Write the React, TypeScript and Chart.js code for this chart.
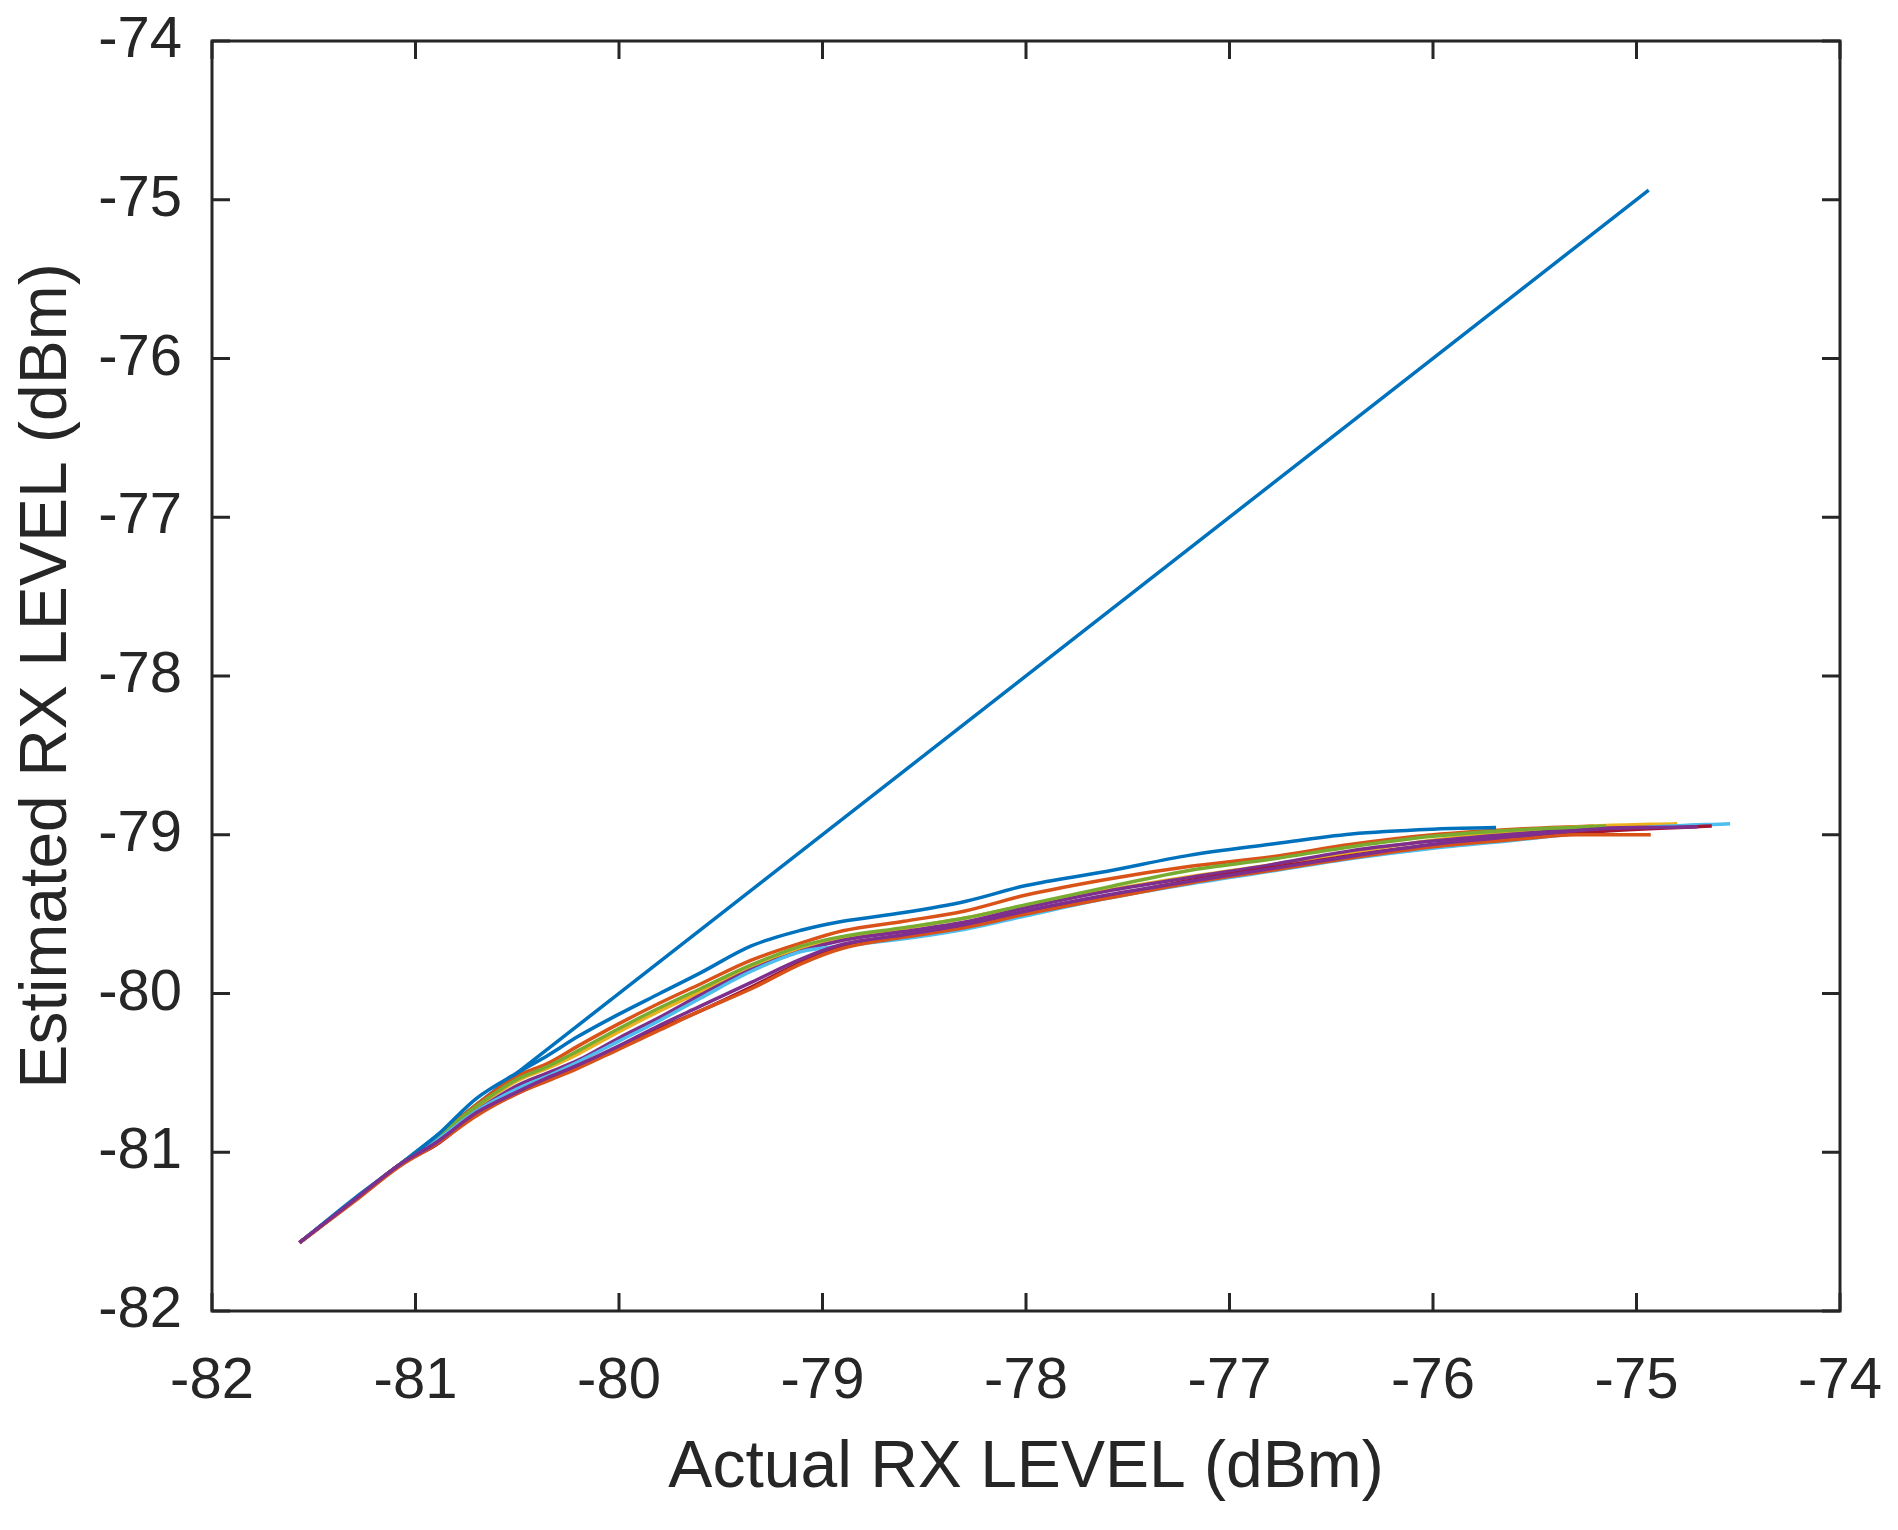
import { useEffect, useRef } from 'react';
import { Chart, registerables } from 'chart.js';

Chart.register(...registerables);

// actual RX level grid (dBm) shared by the estimated curves
const actualLevels = [-81.57, -81.3, -81.08, -80.9, -80.7, -80.5, -80.35, -80.2, -80.0, -79.8, -79.6, -79.35, -79.1, -78.9, -78.6, -78.3, -78.0, -77.6, -77.2, -76.8, -76.4, -76.0, -75.6];

// ideal line (estimated = actual)
const idealX = [-81.57, -74.94];
const idealY = [-81.57, -74.94];

// estimated RX level per run
const estOrangeHigh = [-81.57, -81.3, -81.08, -80.91, -80.7, -80.52, -80.44, -80.33, -80.19, -80.06, -79.94, -79.79, -79.68, -79.605, -79.545, -79.48, -79.38, -79.28, -79.2, -79.14, -79.06, -79.0, -78.965];
const estYellow = [-81.57, -81.3, -81.08, -80.92, -80.72, -80.55, -80.47, -80.38, -80.24, -80.11, -79.99, -79.84, -79.72, -79.655, -79.59, -79.525, -79.445, -79.35, -79.265, -79.19, -79.11, -79.035, -78.98];
const estPurpleHigh = [-81.57, -81.3, -81.08, -80.93, -80.74, -80.58, -80.5, -80.42, -80.28, -80.15, -80.01, -79.85, -79.73, -79.665, -79.61, -79.55, -79.46, -79.355, -79.27, -79.19, -79.1, -79.04, -78.995];
const estGreen = [-81.57, -81.3, -81.08, -80.91, -80.71, -80.54, -80.46, -80.36, -80.22, -80.09, -79.97, -79.82, -79.7, -79.64, -79.585, -79.525, -79.44, -79.33, -79.225, -79.155, -79.075, -79.01, -78.97];
const estLightBlue = [-81.57, -81.3, -81.08, -80.93, -80.74, -80.6, -80.52, -80.43, -80.3, -80.17, -80.03, -79.86, -79.735, -79.7, -79.655, -79.595, -79.51, -79.4, -79.31, -79.23, -79.15, -79.085, -79.035];
const estRed = [-81.57, -81.3, -81.08, -80.955, -80.76, -80.63, -80.54, -80.46, -80.34, -80.22, -80.11, -79.96, -79.8, -79.7, -79.635, -79.575, -79.49, -79.39, -79.29, -79.21, -79.13, -79.065, -79.02];
const estTopBlue = [-81.57, -81.29, -81.08, -80.9, -80.66, -80.5, -80.39, -80.27, -80.13, -80.0, -79.87, -79.7, -79.6, -79.545, -79.49, -79.42, -79.32, -79.23, -79.13, -79.06, -78.995, -78.965];
const estOrangeLow = [-81.57, -81.31, -81.09, -80.95, -80.77, -80.63, -80.55, -80.47, -80.35, -80.23, -80.11, -79.97, -79.81, -79.715, -79.645, -79.585, -79.5, -79.4, -79.305, -79.225, -79.145, -79.075, -79.03];
const estPurpleLow = [-81.57, -81.3, -81.08, -80.94, -80.75, -80.62, -80.53, -80.45, -80.33, -80.2, -80.08, -79.93, -79.78, -79.69, -79.63, -79.565, -79.48, -79.38, -79.295, -79.215, -79.135, -79.06, -79.01];

// last samples of each run (beyond the shared grid)
const tailOrangeHighX = [-75.21];
const tailOrangeHighY = [-78.945];
const tailYellowX = [-75.2, -74.8];
const tailYellowY = [-78.945, -78.93];
const tailPurpleHighX = [-75.2, -74.77];
const tailPurpleHighY = [-78.96, -78.95];
const tailGreenX = [-75.15];
const tailGreenY = [-78.945];
const tailLightBlueX = [-75.2, -74.9, -74.54];
const tailLightBlueY = [-78.98, -78.95, -78.93];
const tailRedX = [-75.2, -74.63];
const tailRedY = [-78.98, -78.945];
const tailTopBlueX = [-75.69];
const tailTopBlueY = [-78.955];
const tailOrangeLowX = [-75.3, -74.93];
const tailOrangeLowY = [-79.0, -79.0];
const tailPurpleLowX = [-75.2, -74.7];
const tailPurpleLowY = [-78.965, -78.95];

const tickValues = [-82, -81, -80, -79, -78, -77, -76, -75, -74];

const AXIS_COLOR = '#262626';
const FONT = '"Liberation Sans", Arial, Helvetica, sans-serif';

const toPoints = (est: number[], tailX: number[], tailY: number[]) => {
  const pts = est.map((y, i) => ({ x: actualLevels[i], y }));
  tailX.forEach((x, i) => pts.push({ x, y: tailY[i] }));
  return pts;
};

// MATLAB-style box with inward ticks on all four sides
const frameTicks = {
  id: 'frameTicks',
  afterDatasetsDraw(chart: any) {
    const { ctx, chartArea: a, scales } = chart;
    const len = 18;
    ctx.save();
    ctx.strokeStyle = AXIS_COLOR;
    ctx.lineWidth = 3;
    ctx.beginPath();
    tickValues.forEach((v) => {
      const px = scales.x.getPixelForValue(v);
      ctx.moveTo(px, a.bottom);
      ctx.lineTo(px, a.bottom - len);
      ctx.moveTo(px, a.top);
      ctx.lineTo(px, a.top + len);
      const py = scales.y.getPixelForValue(v);
      ctx.moveTo(a.left, py);
      ctx.lineTo(a.left + len, py);
      ctx.moveTo(a.right, py);
      ctx.lineTo(a.right - len, py);
    });
    ctx.stroke();
    ctx.strokeRect(a.left, a.top, a.right - a.left, a.bottom - a.top);
    ctx.restore();
  },
};

const App = () => {
  const chartRef = useRef<HTMLCanvasElement>(null);
  const chartInstance = useRef<Chart | null>(null);

  useEffect(() => {
    if (!chartRef.current) return;
    if (chartInstance.current) chartInstance.current.destroy();

    const runs = [
      { color: '#0072BD', data: idealX.map((x, i) => ({ x, y: idealY[i] })) },
      { color: '#D95319', data: toPoints(estOrangeHigh, tailOrangeHighX, tailOrangeHighY) },
      { color: '#EDB120', data: toPoints(estYellow, tailYellowX, tailYellowY) },
      { color: '#7E2F8E', data: toPoints(estPurpleHigh, tailPurpleHighX, tailPurpleHighY) },
      { color: '#77AC30', data: toPoints(estGreen, tailGreenX, tailGreenY) },
      { color: '#4DBEEE', data: toPoints(estLightBlue, tailLightBlueX, tailLightBlueY) },
      { color: '#A2142F', data: toPoints(estRed, tailRedX, tailRedY) },
      { color: '#0072BD', data: toPoints(estTopBlue, tailTopBlueX, tailTopBlueY) },
      { color: '#D95319', data: toPoints(estOrangeLow, tailOrangeLowX, tailOrangeLowY) },
      { color: '#7E2F8E', data: toPoints(estPurpleLow, tailPurpleLowX, tailPurpleLowY) },
    ];

    chartInstance.current = new Chart(chartRef.current, {
      type: 'scatter',
      data: {
        datasets: runs.map((r, i) => ({
          data: r.data,
          showLine: true,
          borderColor: r.color,
          backgroundColor: r.color,
          borderWidth: 3.5,
          pointRadius: 0,
          cubicInterpolationMode: 'monotone' as const,
          order: runs.length - i,
        })),
      },
      options: {
        animation: false,
        responsive: true,
        maintainAspectRatio: false,
        devicePixelRatio: 1,
        layout: { padding: { top: 41, right: 58, left: 0, bottom: 0 } },
        plugins: {
          legend: { display: false },
          tooltip: { enabled: false },
        },
        scales: {
          x: {
            type: 'linear',
            min: -82,
            max: -74,
            afterFit: (scale: any) => {
              scale.height = 219;
              scale.paddingLeft = 0;
              scale.paddingRight = 0;
            },
            afterBuildTicks: (scale: any) => {
              scale.ticks = tickValues.map((value) => ({ value }));
            },
            grid: { display: false, drawTicks: false },
            border: { display: false },
            ticks: {
              padding: 36,
              color: AXIS_COLOR,
              font: { family: FONT, size: 58 },
              maxRotation: 0,
            },
            title: {
              display: true,
              text: 'Actual RX LEVEL (dBm)',
              color: AXIS_COLOR,
              font: { family: FONT, size: 66 },
              padding: { top: 0, bottom: 22 },
            },
          },
          y: {
            type: 'linear',
            min: -82,
            max: -74,
            afterFit: (scale: any) => {
              scale.width = 212;
              scale.paddingTop = 0;
              scale.paddingBottom = 0;
            },
            afterBuildTicks: (scale: any) => {
              scale.ticks = tickValues.map((value) => ({ value }));
            },
            grid: { display: false, drawTicks: false },
            border: { display: false },
            ticks: {
              padding: 30,
              color: AXIS_COLOR,
              font: { family: FONT, size: 58 },
            },
            title: {
              display: true,
              text: 'Estimated RX LEVEL (dBm)',
              color: AXIS_COLOR,
              font: { family: FONT, size: 66 },
              padding: { top: 8, bottom: 0 },
            },
          },
        },
      },
      plugins: [frameTicks],
    });

    return () => {
      if (chartInstance.current) {
        chartInstance.current.destroy();
        chartInstance.current = null;
      }
    };
  }, []);

  return (
    <div style={{ position: 'absolute', left: 0, top: 0, width: '1898px', height: '1530px', background: '#fff' }}>
      <canvas ref={chartRef}></canvas>
    </div>
  );
};

export default App;
